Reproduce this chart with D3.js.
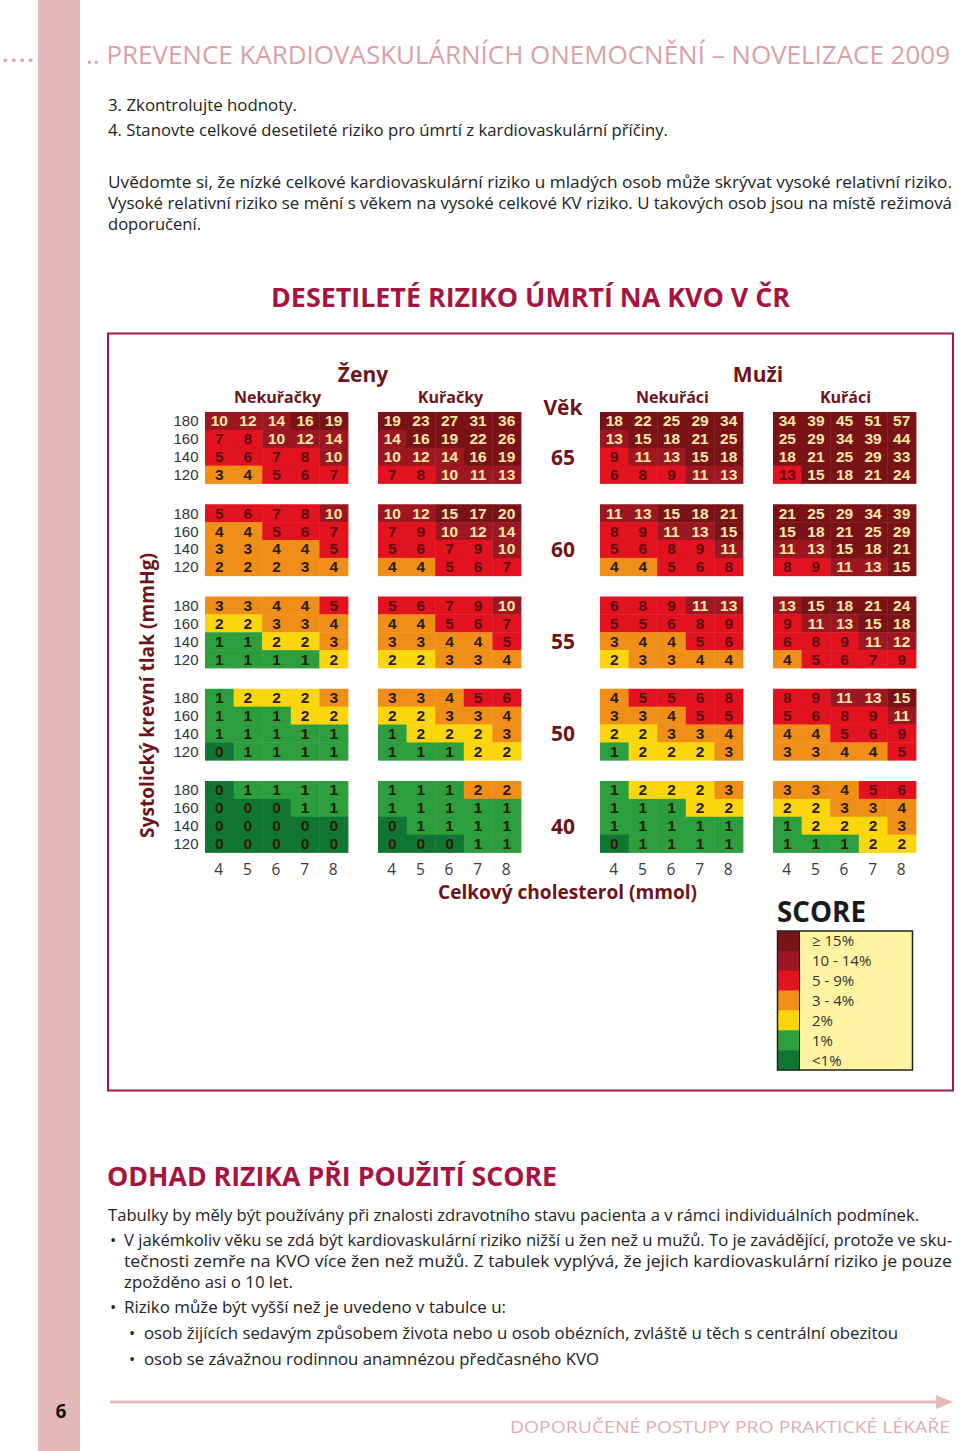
<!DOCTYPE html>
<html><head><meta charset="utf-8">
<script src="https://cdn.jsdelivr.net/npm/d3@7"></script>
<style>html,body{margin:0;padding:0;background:#fff}svg{display:block}</style>
</head><body>
<script>
// ---------- DATA ----------
const ages = [65, 60, 55, 50, 40];
const bpLevels = [180, 160, 140, 120];
const cholesterol = [4, 5, 6, 7, 8];
const groupKeys = ["wn", "ws", "mn", "ms"];
const groupLabels = ["Nekuřačky", "Kuřačky", "Nekuřáci", "Kuřáci"];
const sexLabels = ["Ženy", "Muži"];

// values: [age][bp][cholesterol]
const womenNonSmokers = [
  [[10,12,14,16,19],[7,8,10,12,14],[5,6,7,8,10],[3,4,5,6,7]],
  [[5,6,7,8,10],[4,4,5,6,7],[3,3,4,4,5],[2,2,2,3,4]],
  [[3,3,4,4,5],[2,2,3,3,4],[1,1,2,2,3],[1,1,1,1,2]],
  [[1,2,2,2,3],[1,1,1,2,2],[1,1,1,1,1],[0,1,1,1,1]],
  [[0,1,1,1,1],[0,0,0,1,1],[0,0,0,0,0],[0,0,0,0,0]]
];
const womenSmokers = [
  [[19,23,27,31,36],[14,16,19,22,26],[10,12,14,16,19],[7,8,10,11,13]],
  [[10,12,15,17,20],[7,9,10,12,14],[5,6,7,9,10],[4,4,5,6,7]],
  [[5,6,7,9,10],[4,4,5,6,7],[3,3,4,4,5],[2,2,3,3,4]],
  [[3,3,4,5,6],[2,2,3,3,4],[1,2,2,2,3],[1,1,1,2,2]],
  [[1,1,1,2,2],[1,1,1,1,1],[0,1,1,1,1],[0,0,0,1,1]]
];
const menNonSmokers = [
  [[18,22,25,29,34],[13,15,18,21,25],[9,11,13,15,18],[6,8,9,11,13]],
  [[11,13,15,18,21],[8,9,11,13,15],[5,6,8,9,11],[4,4,5,6,8]],
  [[6,8,9,11,13],[5,5,6,8,9],[3,4,4,5,6],[2,3,3,4,4]],
  [[4,5,5,6,8],[3,3,4,5,5],[2,2,3,3,4],[1,2,2,2,3]],
  [[1,2,2,2,3],[1,1,1,2,2],[1,1,1,1,1],[0,1,1,1,1]]
];
const menSmokers = [
  [[34,39,45,51,57],[25,29,34,39,44],[18,21,25,29,33],[13,15,18,21,24]],
  [[21,25,29,34,39],[15,18,21,25,29],[11,13,15,18,21],[8,9,11,13,15]],
  [[13,15,18,21,24],[9,11,13,15,18],[6,8,9,11,12],[4,5,6,7,9]],
  [[8,9,11,13,15],[5,6,8,9,11],[4,4,5,6,9],[3,3,4,4,5]],
  [[3,3,4,5,6],[2,2,3,3,4],[1,2,2,2,3],[1,1,1,2,2]]
];
// cells whose colour band differs from the rounded value: [group, age, bp, chol, band]
const bandOverrides = [
  ["wn",60,120,4,"3 - 4%"],["wn",60,120,5,"3 - 4%"],["wn",60,120,6,"3 - 4%"],
  ["ws",40,180,7,"3 - 4%"],["ws",40,180,8,"3 - 4%"],
  ["ms",65,120,4,"5 - 9%"]
];
const bandLabels = ["≥ 15%", "10 - 14%", "5 - 9%", "3 - 4%", "2%", "1%", "<1%"];
const bandThresholds = [1, 2, 3, 5, 10, 15];
const bandColors = ["#7a1317", "#9c1721", "#e2121f", "#ef8f17", "#fcd60c", "#2c9e3e", "#127633"];

const groupData = {wn: womenNonSmokers, ws: womenSmokers, mn: menNonSmokers, ms: menSmokers};

// ---------- PAGE ----------
const svg = d3.select("body").append("svg").attr("width", 960).attr("height", 1451);
const SANS = "'Open Sans', 'Noto Sans', sans-serif";
const ARIAL = "'Liberation Sans', Arial, sans-serif";
function txt(g, x, y, s, o = {}) {
  const t = g.append("text").attr("x", x).attr("y", y).text(s)
    .attr("font-family", o.family || SANS)
    .attr("font-size", o.size || 16)
    .attr("font-weight", o.weight || 400)
    .attr("fill", o.fill || "#222")
    .attr("text-anchor", o.anchor || "start");
  if (o.len) t.attr("textLength", o.len).attr("lengthAdjust", "spacingAndGlyphs");
  if (o.ls) t.attr("letter-spacing", o.ls);
  return t;
}

// pink side bar
svg.append("rect").attr("x", 38).attr("y", 0).attr("width", 42).attr("height", 1451).attr("fill", "#e4b8b8");

// header
const PINK = "#dba0a7";
txt(svg, 1, 62, "....", {size: 26, fill: PINK, len: 34});
txt(svg, 86, 64, ".. PREVENCE KARDIOVASKULÁRNÍCH ONEMOCNĚNÍ – NOVELIZACE 2009", {size: 26, fill: PINK, len: 864});

// intro text
const bodyOpt = {size: 16.5, fill: "#222"};
txt(svg, 108, 111, "3. Zkontrolujte hodnoty.", {...bodyOpt, len: 189});
txt(svg, 108, 136, "4. Stanovte celkové desetileté riziko pro úmrtí z kardiovaskulární příčiny.", {...bodyOpt, len: 560});
txt(svg, 108, 187.5, "Uvědomte si, že nízké celkové kardiovaskulární riziko u mladých osob může skrývat vysoké relativní riziko.", {...bodyOpt, len: 844});
txt(svg, 108, 208.5, "Vysoké relativní riziko se mění s věkem na vysoké celkové KV riziko. U takových osob jsou na místě režimová", {...bodyOpt, len: 844});
txt(svg, 108, 229.5, "doporučení.", {...bodyOpt, len: 93});

// chart title
const CRIMSON = "#a5153f";
txt(svg, 530.5, 307, "DESETILETÉ RIZIKO ÚMRTÍ NA KVO V ČR", {size: 27, weight: 700, fill: CRIMSON, anchor: "middle", len: 519});

// chart frame
svg.append("rect").attr("x", 108).attr("y", 333.5).attr("width", 845).attr("height", 757)
  .attr("fill", "none").attr("stroke", "#a01a42").attr("stroke-width", 2);

// ---------- SCORE GRID ----------
const MAROON = "#6e1418";
const ageScale = d3.scaleBand().domain(ages).range([412, 852.5]).paddingInner(0.225).paddingOuter(0);
const bpScale = d3.scaleBand().domain(bpLevels).range([0, ageScale.bandwidth()]);
const groupX = d3.scaleOrdinal().domain(groupKeys).range([205, 378, 600, 773]);
const cholScale = d3.scaleBand().domain(cholesterol).range([0, 143]);
const bandScale = d3.scaleThreshold().domain(bandThresholds).range(bandLabels.slice().reverse());
const colorScale = d3.scaleOrdinal().domain(bandLabels).range(bandColors);
const gridW = cholScale.range()[1];

function bandOf(gk, age, bp, ch, v) {
  const o = bandOverrides.find(d => d[0] === gk && d[1] === age && d[2] === bp && d[3] === ch);
  return o ? o[4] : bandScale(v);
}

const cells = [];
groupKeys.forEach(gk => {
  ages.forEach((age, ai) => {
    bpLevels.forEach((bp, bi) => {
      cholesterol.forEach((ch, ci) => {
        const v = groupData[gk][ai][bi][ci];
        cells.push({gk, age, bp, ch, v, band: bandOf(gk, age, bp, ch, v)});
      });
    });
  });
});

const gridG = svg.append("g");
gridG.selectAll("rect.cell").data(cells).join("rect").attr("class", "cell")
  .attr("x", d => groupX(d.gk) + cholScale(d.ch))
  .attr("y", d => ageScale(d.age) + bpScale(d.bp))
  .attr("width", cholScale.bandwidth() + 0.4)
  .attr("height", bpScale.bandwidth() + 0.4)
  .attr("fill", d => colorScale(d.band));

function textColor(band) {
  const i = bandLabels.indexOf(band);
  if (i <= 1) return "#fbe7a6";
  if (i === 2) return "#5c0b10";
  return "#2a1c0c";
}
gridG.selectAll("text.val").data(cells).join("text").attr("class", "val")
  .attr("x", d => groupX(d.gk) + cholScale(d.ch) + cholScale.bandwidth() / 2)
  .attr("y", d => ageScale(d.age) + bpScale(d.bp) + bpScale.bandwidth() / 2 + 5.5)
  .attr("text-anchor", "middle")
  .attr("font-family", ARIAL)
  .attr("font-weight", 700).attr("font-size", 15.5)
  .attr("fill", d => textColor(d.band))
  .text(d => d.v);

// blood pressure labels
ages.forEach(age => {
  bpLevels.forEach(bp => {
    txt(svg, 198.5, ageScale(age) + bpScale(bp) + bpScale.bandwidth() / 2 + 5.5, bp, {family: ARIAL, size: 15, fill: "#333", anchor: "end"});
  });
  // age label
  txt(svg, 563, ageScale(age) + bpScale(140) + bpScale.bandwidth() / 2 + 8, age, {size: 21, weight: 700, fill: MAROON, anchor: "middle"});
});

// cholesterol ticks
groupKeys.forEach(gk => {
  cholesterol.forEach(ch => {
    txt(svg, groupX(gk) + cholScale(ch) + cholScale.bandwidth() / 2 - 0.5, 874.5, ch, {size: 15.5, fill: "#3a3a3a", anchor: "middle"});
  });
});

// headings
groupKeys.forEach((gk, i) => {
  txt(svg, groupX(gk) + gridW / 2 + 1, 402.5, groupLabels[i], {size: 16, weight: 700, fill: MAROON, anchor: "middle"});
});
txt(svg, (groupX("wn") + groupX("ws") + gridW) / 2, 382, sexLabels[0], {size: 21, weight: 700, fill: MAROON, anchor: "middle"});
txt(svg, (groupX("mn") + groupX("ms") + gridW) / 2, 382, sexLabels[1], {size: 21, weight: 700, fill: MAROON, anchor: "middle"});
txt(svg, 563, 415, "Věk", {size: 21, weight: 700, fill: MAROON, anchor: "middle"});

txt(svg, 567.5, 899, "Celkový cholesterol (mmol)", {size: 20, weight: 700, fill: MAROON, anchor: "middle", len: 259});
svg.append("g").attr("transform", "translate(154,695.5) rotate(-90)")
  .call(g => txt(g, 0, 0, "Systolický krevní tlak (mmHg)", {size: 20, weight: 700, fill: MAROON, anchor: "middle", len: 285}));

// ---------- LEGEND ----------
txt(svg, 777, 922, "SCORE", {size: 28, weight: 700, fill: "#1a1a1a", len: 89});
const legY = d3.scaleBand().domain(bandLabels).range([931, 1070]);
const leg = svg.append("g");
leg.append("rect").attr("x", 777.5).attr("y", 931).attr("width", 135).attr("height", 139).attr("fill", "#fff4a2");
leg.selectAll("rect.sw").data(bandLabels).join("rect").attr("class", "sw")
  .attr("x", 777.5).attr("y", d => legY(d)).attr("width", 22).attr("height", legY.bandwidth() + 0.3)
  .attr("fill", d => colorScale(d));
leg.append("line").attr("x1", 799.5).attr("x2", 799.5).attr("y1", 931).attr("y2", 1070).attr("stroke", "#222").attr("stroke-width", 1);
leg.append("rect").attr("x", 777.5).attr("y", 931).attr("width", 135).attr("height", 139)
  .attr("fill", "none").attr("stroke", "#222").attr("stroke-width", 1.5);
leg.selectAll("text.lab").data(bandLabels).join("text").attr("class", "lab")
  .attr("x", 812).attr("y", d => legY(d) + legY.bandwidth() / 2 + 5.5)
  .attr("font-family", SANS).attr("font-size", 15).attr("fill", "#333")
  .text(d => d);

// ---------- LOWER TEXT ----------
txt(svg, 107, 1186, "ODHAD RIZIKA PŘI POUŽITÍ SCORE", {size: 27, weight: 700, fill: CRIMSON, len: 450});
txt(svg, 108, 1221, "Tabulky by měly být používány při znalosti zdravotního stavu pacienta a v rámci individuálních podmínek.", {...bodyOpt, len: 811});
txt(svg, 110, 1246, "•", bodyOpt);
txt(svg, 124, 1246, "V jakémkoliv věku se zdá být kardiovaskulární riziko nižší u žen než u mužů. To je zavádějící, protože ve sku-", {...bodyOpt, len: 828});
txt(svg, 124, 1267, "tečnosti zemře na KVO více žen než mužů. Z tabulek vyplývá, že jejich kardiovaskulární riziko je pouze", {...bodyOpt, len: 828});
txt(svg, 124, 1288, "zpožděno asi o 10 let.", {...bodyOpt, len: 169});
txt(svg, 110, 1313, "•", bodyOpt);
txt(svg, 124, 1313, "Riziko může být vyšší než je uvedeno v tabulce u:", {...bodyOpt, len: 382});
txt(svg, 129, 1339, "•", bodyOpt);
txt(svg, 144, 1339, "osob žijících sedavým způsobem života nebo u osob obézních, zvláště u těch s centrální obezitou", {...bodyOpt, len: 754});
txt(svg, 129, 1365, "•", bodyOpt);
txt(svg, 144, 1365, "osob se závažnou rodinnou anamnézou předčasného KVO", {...bodyOpt, len: 455});

// ---------- FOOTER ----------
txt(svg, 61, 1418, "6", {size: 19, weight: 700, fill: "#111", anchor: "middle"});
svg.append("line").attr("x1", 110).attr("x2", 940).attr("y1", 1402).attr("y2", 1402).attr("stroke", "#e6b9bb").attr("stroke-width", 3);
svg.append("path").attr("d", d3.line()([[936, 1395], [953, 1402], [936, 1409]]) + "Z").attr("fill", "#e6b9bb");
txt(svg, 950, 1433, "DOPORUČENÉ POSTUPY PRO PRAKTICKÉ LÉKAŘE", {size: 16, fill: "#e0adb2", anchor: "end", len: 440});
</script>
</body></html>
